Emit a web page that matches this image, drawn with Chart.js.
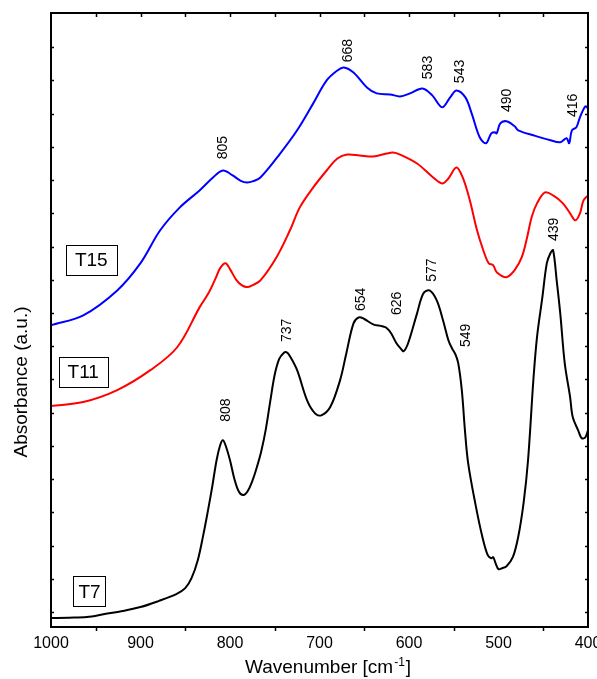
<!DOCTYPE html>
<html><head><meta charset="utf-8">
<script src="https://cdn.jsdelivr.net/npm/chart.js@4/dist/chart.umd.min.js"></script>
<style>html,body{margin:0;padding:0;background:#fff}canvas{display:block}</style>
</head><body>
<canvas id="c" width="597" height="679"></canvas>
<script>
// ---- data (wavenumber in cm-1, absorbance in arbitrary offset units) ----
const wnT7 = [1000,980,960,940,920,900,880,860,850,843,836,830,825,820,815,811,808,805,800,795,790,785,780,775,770,765,760,755,750,745,740,737,733,725,714,705,698,688,677,670,662,656,650,640,630,625,620,614,609,606,601,591,584,577,569,562,556,552,548,545,541,537.5,534,526,518,512,508,506,503,500,496,491,484,478,472,467,461,457,451,446,442,439,435,431,426,420,417,411,407,403,400];
const absT7 = [-0.18,-0.17,-0.15,-0.06,0.03,0.15,0.33,0.54,0.72,1.02,1.56,2.3,3.0,3.75,4.57,5.02,5.17,5.02,4.57,4.0,3.62,3.52,3.65,3.95,4.36,4.85,5.5,6.35,7.15,7.62,7.8,7.82,7.7,7.28,6.38,5.98,5.92,6.17,6.98,7.79,8.69,8.87,8.82,8.66,8.6,8.55,8.39,8.09,7.92,7.85,8.09,8.99,9.59,9.68,9.38,8.78,8.18,7.94,7.75,7.49,6.68,5.47,4.5,3.28,2.26,1.71,1.62,1.65,1.45,1.29,1.32,1.38,1.65,2.26,3.28,4.57,7.0,8.27,9.47,10.5,10.8,10.89,9.98,8.99,7.49,6.47,5.86,5.47,5.23,5.26,5.47];

const wnT11 = [1000,964,926,889,859,834,824,816,811,805,800,793,787,781,774,766,748,733,722,707,692,680,669,655,640,625,618,610,591,573,563,556,547,540,532,524,517,511,506,502,491,482,474,468,463,457,448,439,428,420,414,409,405,400];
const absT11 = [6.2,6.32,6.68,7.28,7.97,9.17,9.6,10.05,10.35,10.5,10.32,10.0,9.84,9.78,9.85,9.98,10.68,11.49,12.18,12.78,13.29,13.65,13.77,13.74,13.71,13.8,13.83,13.77,13.5,13.08,12.9,13.05,13.38,13.08,12.39,11.49,10.89,10.5,10.44,10.23,10.08,10.29,10.68,11.28,11.88,12.3,12.63,12.54,12.3,12.0,11.79,12.0,12.39,12.54];

const wnT15 = [1000,964,926,900,878,856,834,819,808,797,788,781,774,766,744,725,707,692,680,673,662,647,636,621,610,599,585,574,563,554,547,537,530,521,514,508,504,502,498,491,482,478,461,442,431,424,421,418,413,409,403,400];
const absT15 = [8.63,8.93,9.68,10.5,11.49,12.18,12.69,13.08,13.29,13.14,12.98,12.93,12.97,13.08,13.8,14.5,15.31,16.0,16.3,16.39,16.24,15.79,15.61,15.58,15.52,15.61,15.76,15.55,15.19,15.49,15.7,15.49,15.01,14.29,14.11,14.41,14.44,14.41,14.71,14.77,14.62,14.5,14.35,14.2,14.14,14.26,14.11,14.5,14.59,14.89,15.22,15.16];

const seriesNames = ['T7','T11','T15'];
const xTickValues = [1000,900,800,700,600,500,400];
const xTickLabels = ['1000','900','800','700','600','500','400'];
const yTickValues = [0,1,2,3,4,5,6,7,8,9,10,11,12,13,14,15,16,17];

// peak annotations: text, wavenumber position, absorbance position
const peakText = ['805','668','583','543','490','416','808','737','654','626','577','549','439'];
const peakWn   = [809,669,580,544,491.6,418,805.6,737.4,655,614.5,575.4,537.4,439];
const peakAbs  = [13.98,16.9,16.39,16.27,15.4,15.25,6.08,8.48,9.41,9.29,10.29,8.33,11.52];

// boxed series labels
const boxText = ['T15','T11','T7'];
const boxWn   = [955,964,957];
const boxAbs  = [10.59,7.23,0.62];

const FONT = '"Liberation Sans", Arial, Helvetica, sans-serif';

const decor = {
  id: 'decor',
  afterDraw(chart) {
    const {ctx, chartArea: a, scales: {x, y}} = chart;
    ctx.save();
    ctx.strokeStyle = '#000';
    ctx.fillStyle = '#000';
    // frame
    ctx.lineWidth = 2;
    ctx.strokeRect(a.left, a.top, a.right - a.left, a.bottom - a.top);
    // ticks
    ctx.lineWidth = 1.5;
    ctx.beginPath();
    for (let v = 450; v < 1000; v += 50) {
      const px = Math.round(x.getPixelForValue(v)) + 0.5;
      ctx.moveTo(px, a.top); ctx.lineTo(px, a.top + 4);
      if (v % 100 !== 0) { ctx.moveTo(px, a.bottom); ctx.lineTo(px, a.bottom + 4); }
    }
    for (const v of yTickValues) {
      const py = Math.round(y.getPixelForValue(v)) + 0.5;
      ctx.moveTo(a.left, py); ctx.lineTo(a.left + 3, py);
      ctx.moveTo(a.right, py); ctx.lineTo(a.right - 3, py);
    }
    ctx.stroke();
    // x tick labels
    ctx.font = '16px ' + FONT;
    ctx.textAlign = 'center';
    ctx.textBaseline = 'middle';
    xTickValues.forEach((v, i) => {
      ctx.fillText(xTickLabels[i], x.getPixelForValue(v), 644);
    });
    // x title
    ctx.textAlign = 'left';
    ctx.textBaseline = 'alphabetic';
    ctx.font = '19px ' + FONT;
    const t1 = 'Wavenumber [cm';
    const tw = ctx.measureText(t1).width;
    ctx.font = '12px ' + FONT;
    const sw = ctx.measureText('-1').width;
    const sx = 245;
    ctx.font = '19px ' + FONT;
    ctx.fillText(t1, sx, 673);
    ctx.font = '12px ' + FONT;
    ctx.fillText('-1', sx + tw + 1, 666);
    ctx.font = '19px ' + FONT;
    ctx.fillText(']', sx + tw + sw + 2, 673);
    // y title
    ctx.save();
    ctx.translate(27, 382);
    ctx.rotate(-Math.PI / 2);
    ctx.textAlign = 'center';
    ctx.textBaseline = 'alphabetic';
    ctx.font = '19px ' + FONT;
    ctx.fillText('Absorbance (a.u.)', 0, 0);
    ctx.restore();
    // peak labels
    ctx.font = '14px ' + FONT;
    peakText.forEach((t, i) => {
      ctx.save();
      ctx.translate(x.getPixelForValue(peakWn[i]), y.getPixelForValue(peakAbs[i]));
      ctx.rotate(-Math.PI / 2);
      ctx.textAlign = 'center';
      ctx.textBaseline = 'middle';
      ctx.fillText(t, 0, 1);
      ctx.restore();
    });
    // boxed labels
    ctx.font = '19px ' + FONT;
    ctx.lineWidth = 1;
    boxText.forEach((t, i) => {
      const cx = x.getPixelForValue(boxWn[i]);
      const cy = y.getPixelForValue(boxAbs[i]);
      const w = ctx.measureText(t).width;
      const pad = t.length > 2 ? 9 : 5;
      const bwid = Math.round(w + 2 * pad), bh = 30;
      const l = Math.round(cx - bwid / 2) + 0.5, tp = Math.round(cy - bh / 2) + 0.5;
      ctx.strokeRect(l, tp, bwid, bh);
      ctx.textAlign = 'center';
      ctx.textBaseline = 'middle';
      ctx.fillText(t, cx, cy + 1);
    });
    ctx.restore();
  }
};

const mk = (wn, ab) => wn.map((w, i) => ({x: w, y: ab[i]}));

new Chart(document.getElementById('c'), {
  type: 'line',
  data: {
    datasets: [
      {label: seriesNames[0], data: mk(wnT7, absT7), borderColor: '#000000'},
      {label: seriesNames[1], data: mk(wnT11, absT11), borderColor: '#ff0000'},
      {label: seriesNames[2], data: mk(wnT15, absT15), borderColor: '#0000ff'}
    ]
  },
  options: {
    responsive: false,
    animation: false,
    devicePixelRatio: 1,
    parsing: false,
    layout: {padding: {top: 13, right: 9, left: 0, bottom: 0}},
    elements: {
      line: {borderWidth: 2, tension: 0.35, fill: false},
      point: {radius: 0, hoverRadius: 0}
    },
    plugins: {legend: {display: false}, tooltip: {enabled: false}},
    scales: {
      x: {
        type: 'linear', reverse: true, min: 400, max: 1000,
        grid: {display: false, drawTicks: false}, border: {display: false},
        ticks: {display: false},
        afterFit(s) { s.height = 52; }
      },
      y: {
        type: 'linear', min: -0.45, max: 18.03,
        grid: {display: false, drawTicks: false}, border: {display: false},
        ticks: {display: false},
        afterFit(s) { s.width = 51; }
      }
    }
  },
  plugins: [decor]
});
</script>
</body></html>
